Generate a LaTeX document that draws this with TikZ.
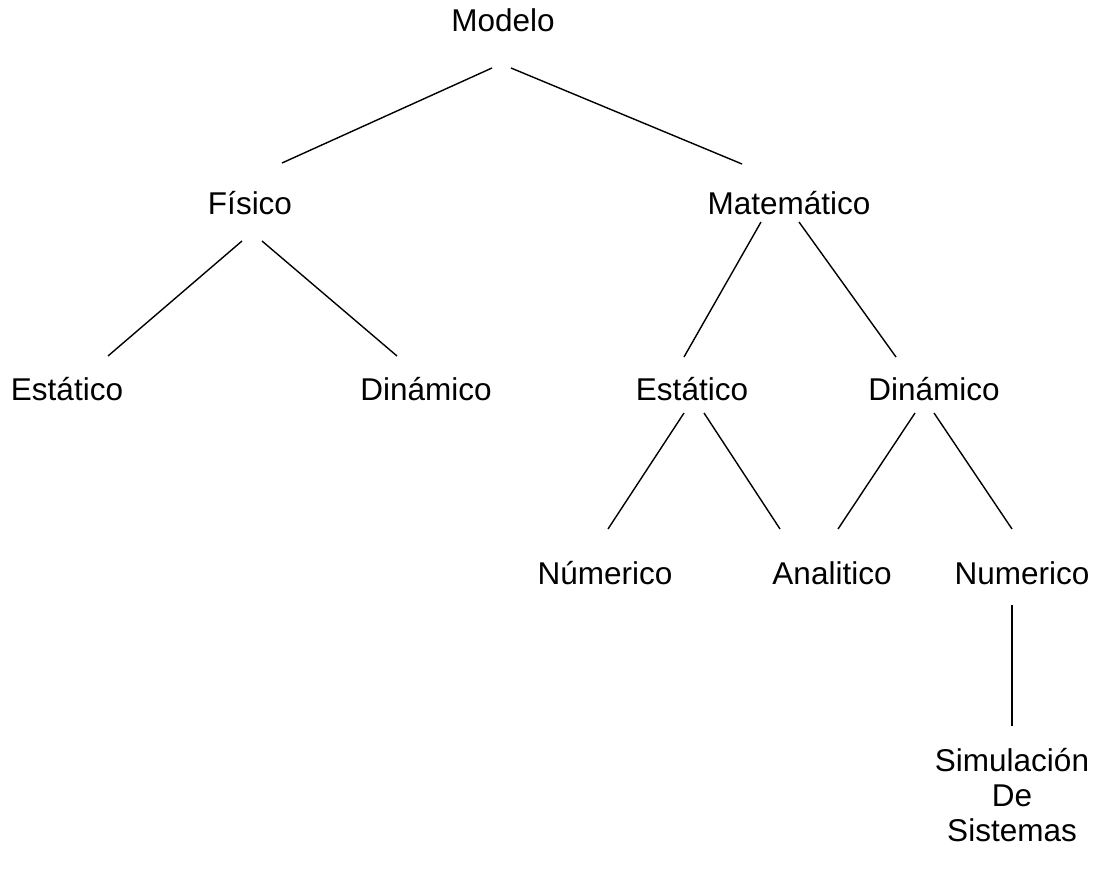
\documentclass[tikz,border=0pt]{standalone}
\usepackage{fontspec}
\setmainfont{Liberation Sans}
\usetikzlibrary{calc}
\begin{document}
\begin{tikzpicture}[x=1pt,y=-1pt,line width=1.4pt,
  every node/.style={anchor=base,inner sep=0pt,font=\fontsize{31.5}{35}\selectfont}]
\useasboundingbox (0,0) rectangle (1099,882);
% levels
\node (modelo) at (503,32) {Modelo};
\node (fisico) at (250,215) {Físico};
\node (matematico) at (789,215) {Matemático};
\node (festatico) at (67,400) {Estático};
\node (fdinamico) at (426,400) {Dinámico};
\node (mestatico) at (692,400) {Estático};
\node (mdinamico) at (934,400) {Dinámico};
\node (mnumerico) at (605,584) {Númerico};
\node (analitico) at (832,584) {Analitico};
\node (dnumerico) at (1022,584) {Numerico};
\node[anchor=center,align=center] (simulacion) at (1012,795) {Simulación\\De\\Sistemas};
% branches
\draw ($(modelo.base)+(-11,36)$) -- ($(fisico.base)+(32,-52)$);
\draw ($(modelo.base)+(8,36)$) -- ($(matematico.base)+(-47,-51)$);
\draw ($(fisico.base)+(-8,26)$) -- ($(festatico.base)+(41,-44)$);
\draw ($(fisico.base)+(12,26)$) -- ($(fdinamico.base)+(-29,-44)$);
\draw ($(matematico.base)+(-28,7)$) -- ($(mestatico.base)+(-8,-43)$);
\draw ($(matematico.base)+(10,7)$) -- ($(mdinamico.base)+(-38,-43)$);
\draw ($(mestatico.base)+(-8,13)$) -- ($(mnumerico.base)+(3,-55)$);
\draw ($(mestatico.base)+(12,13)$) -- ($(analitico.base)+(-52,-55)$);
\draw ($(mdinamico.base)+(-19,13)$) -- ($(analitico.base)+(6,-55)$);
\draw ($(mdinamico.base)+(0,13)$) -- ($(dnumerico.base)+(-10,-55)$);
\draw ($(dnumerico.base)+(-10,21)$) -- ($(simulacion.north)+(0,-22)$);
\end{tikzpicture}
\end{document}
